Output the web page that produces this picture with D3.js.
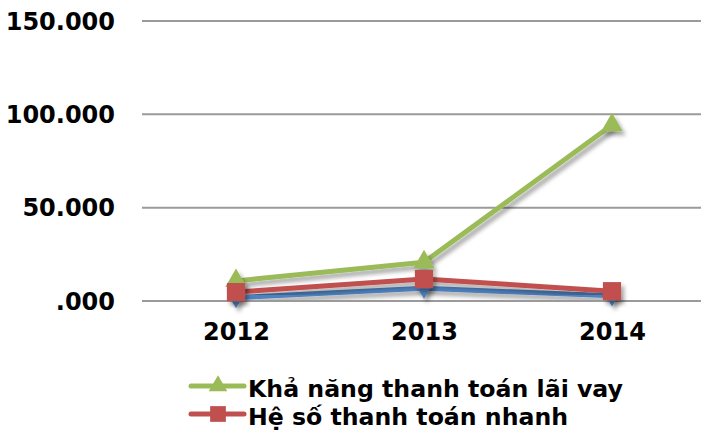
<!DOCTYPE html>
<html><head><meta charset="utf-8">
<script src="https://cdn.jsdelivr.net/npm/d3@7"></script>
<style>body{margin:0;background:#fff}svg{display:block}</style></head>
<body><svg id="c" width="701" height="432"></svg>
<script>
const years = ["2012", "2013", "2014"];
const khaNangThanhToanLaiVay = [10.5, 20.5, 94];
const heSoThanhToanNhanh = [4.5, 11.5, 5];
const heSoThanhToanTucThoi = [1.5, 6.5, 2.5];
const yTicks = [0, 50, 100, 150];
const yTickLabels = [".000", "50.000", "100.000", "150.000"];
const legendLabels = ["Khả năng thanh toán lãi vay", "Hệ số thanh toán nhanh"];

const svg = d3.select("#c");
const FONT = "'DejaVu Sans', Verdana, sans-serif";

const defs = svg.append("defs");
defs.append("filter").attr("id", "sh").attr("x", "-20%").attr("y", "-20%").attr("width", "140%").attr("height", "140%")
  .append("feDropShadow").attr("dx", 3).attr("dy", 4).attr("stdDeviation", 2)
  .attr("flood-color", "#000").attr("flood-opacity", 0.35);

const x = d3.scalePoint().domain(years).range([142, 706]).padding(0.5);
const y = d3.scaleLinear().domain([0, 150]).range([300.5, 20.5]);

// gridlines + y labels
const yAxis = svg.append("g").attr("transform", "translate(142,0)")
  .call(d3.axisLeft(y).tickValues(yTicks).tickSize(-570).tickPadding(27)
    .tickFormat((d, i) => yTickLabels[i]));
yAxis.select(".domain").remove();
yAxis.selectAll("line").attr("stroke", "#9a9a9a").attr("stroke-width", 2);
yAxis.selectAll("text").attr("font-family", FONT).attr("font-weight", "bold")
  .attr("font-size", 24).attr("fill", "#000").attr("dy", "0.36em");

// x labels
const xAxis = svg.append("g").attr("transform", "translate(0,300.5)")
  .call(d3.axisBottom(x).tickSize(0).tickPadding(27));
xAxis.select(".domain").remove();
xAxis.selectAll("text").attr("font-family", FONT).attr("font-weight", "bold")
  .attr("font-size", 24).attr("fill", "#000").attr("dy", "0.5em");

const series = [
  { vals: khaNangThanhToanLaiVay, color: "#9BBB59", sym: d3.symbolTriangle, size: 200 },
  { vals: heSoThanhToanTucThoi, color: "#4F81BD", sym: d3.symbolDiamond, size: 130 },
  { vals: heSoThanhToanNhanh, color: "#C0504D", sym: d3.symbolSquare, size: 330 }
];
const line = d3.line().x((d, i) => x(years[i])).y(d => y(d));

series.forEach(s => {
  svg.append("path").datum(s.vals).attr("d", line).attr("fill", "none")
    .attr("stroke", s.color).attr("stroke-width", 5).attr("stroke-linejoin", "round")
    .attr("filter", "url(#sh)");
});
series.forEach(s => {
  svg.append("g").attr("filter", "url(#sh)").selectAll("path").data(s.vals).join("path")
    .attr("d", d3.symbol().type(s.sym).size(s.size))
    .attr("transform", (d, i) => `translate(${x(years[i])},${y(d)})`)
    .attr("fill", s.color);
});

// legend
const legendSeries = [series[0], series[2]];
const legendY = [386, 414];
const legendLen = [375, 320];
legendSeries.forEach((s, i) => {
  const g = svg.append("g").attr("transform", `translate(0,${legendY[i]})`);
  g.append("line").attr("x1", 191).attr("x2", 244).attr("y1", 0).attr("y2", 0)
    .attr("stroke", s.color).attr("stroke-width", 5).attr("stroke-linecap", "round");
  g.append("path").attr("d", d3.symbol().type(s.sym).size(s.size * 0.75))
    .attr("transform", "translate(218,0)").attr("fill", s.color);
  g.append("text").attr("x", 248).attr("y", 11).text(legendLabels[i])
    .attr("font-family", FONT).attr("font-weight", "bold").attr("font-size", 23)
    .attr("textLength", legendLen[i]).attr("lengthAdjust", "spacingAndGlyphs");
});
</script></body></html>
